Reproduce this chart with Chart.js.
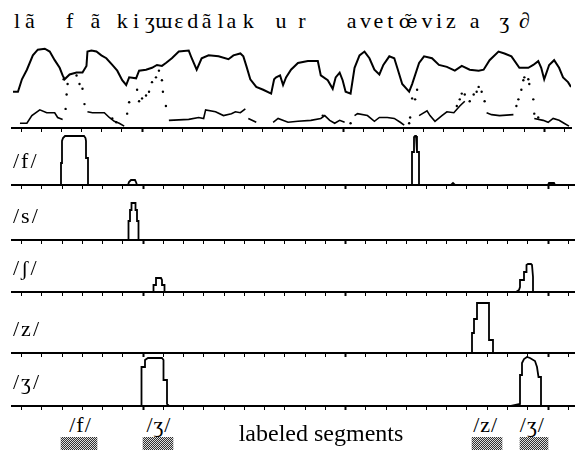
<!DOCTYPE html>
<html>
<head>
<meta charset="utf-8">
<script src="https://cdn.jsdelivr.net/npm/chart.js@4.4.1/dist/chart.umd.min.js"></script>
<style>
  html, body { margin: 0; padding: 0; background: #fff; }
  #wrap { position: relative; width: 575px; height: 458px; overflow: hidden;
          font-family: "Liberation Serif", "DejaVu Serif", serif; color: #000; }
  #wrap canvas { position: absolute; left: 0; }
  .lbl { position: absolute; font-size: 22px; line-height: 22px; white-space: nowrap; }
</style>
</head>
<body>
<div id="wrap"></div>
<script>
// time axis (arbitrary frame units), ticks
const T_MIN = 70;
const T_MAX = 633;
const TICKS = [79.5, 99.7, 120, 140.2, 160.5, 180.7, 201, 221.2, 241.5, 261.7, 282, 302.2, 322.5, 342.7,
               363, 383.2, 403.5, 423.7, 444, 464.2, 484.5, 504.7, 525, 545.2, 565.5, 585.7, 606, 626.2];
const MAJOR_TICKS = [201, 403.5, 606];

// phonetic transcription along the top
const PHONEMES = ["l", "ã", "f", "ã", "k", "i", "ʒ", "ɯ", "ɛ", "d", "ã", "l", "a", "k", "u", "r",
                  "a", "v", "e", "t", "œ̃", "v", "i", "z", "a", "ʒ", "∂"];
const PHONEME_T = [75, 88, 128, 154, 181, 195, 209, 223, 238, 252, 266, 280, 291, 308, 341, 362,
                   412, 426, 439, 451, 469, 488, 500, 512, 536, 566, 586];

// top panel: upper trace
const UPPER_T = [71, 76, 80, 85, 91, 96, 103, 108, 113, 118, 121, 123, 128, 135, 141, 145, 146, 150, 155, 160,
                 165, 171, 176, 181, 185, 188, 195, 198, 205, 211, 216, 221, 225, 231, 238, 248, 251, 256, 261, 268,
                 278, 288, 293, 300, 303, 306, 310, 316, 323, 331, 334, 336, 340, 343, 346, 351, 358, 368, 378, 381,
                 388, 393, 396, 400, 403, 406, 411, 415, 420, 425, 430, 435, 440, 444, 450, 455, 458, 463, 470, 473,
                 480, 485, 493, 500, 508, 516, 523, 531, 540, 545, 551, 560, 566, 573, 581, 590, 595, 600, 603, 606,
                 611, 616, 621, 625, 630, 633];
const UPPER_V = [38, 38, 51, 61, 76, 82, 83, 80, 71, 63, 55, 51, 56, 58, 58, 65, 80, 81, 80, 76,
                 73, 66, 60, 50, 45, 53, 52, 60, 61, 63, 66, 65, 68, 73, 80, 81, 73, 61, 73, 76,
                 75, 72, 76, 78, 75, 65, 51, 43, 40, 36, 51, 53, 55, 45, 53, 61, 68, 70, 70, 55,
                 50, 41, 53, 58, 50, 38, 36, 63, 76, 80, 73, 61, 56, 66, 75, 73, 63, 46, 38, 46,
                 68, 75, 73, 66, 64, 60, 65, 61, 60, 61, 71, 80, 78, 75, 63, 63, 66, 70, 63, 51,
                 66, 71, 63, 53, 48, 43];

// top panel: lower trace (null = break)
const LOWER_T = [78, 85, 90, 98, 105, 113, 116, 121, 130, 146, 151, 163, 168, 173, 178, 183, 200,
                 228, 248, 258, 263, 265, 275, 283, 291, 295, 300, 305, 306, 308, 316, 325,
                 333, 338, 348, 358, 371, 381, 385, 390, 395, 400, 405, 410,
                 415, 418, 428, 435, 440, 448, 455, 461, 465, 472,
                 480, 488, 491, 496, 503, 508, 515, 521, 526, 537,
                 548, 553, 561, 575, 585, 596, 605, 610, 615, 621, 626, 631];
const LOWER_V = [5, 5, 13, 19, 16, 16, 11, 9, null, 17, 16, 16, 11, 7, 5, 2, null,
                 8, 9, 11, 10, 19, 17, 13, 15, 17, 16, 20, null, 10, 6, null,
                 6, 10, 6, 7, 8, 10, 13, 8, 5, 8, 6, null,
                 13, 15, 13, 7, 11, 11, 10, 6, 3, null,
                 13, 18, 13, 7, 13, 17, 16, 23, 28, null,
                 16, 14, 13, 14, null, 10, 8, 6, 10, 8, 5, 2];

// top panel: dotted transitions
const DOT_T = [122, 126, 125, 124, 135, 138, 141, 143, 171, 175, 186, 188, 196, 198, 201, 205, 208, 211, 215, 218,
               221, 222, 225, 383, 411, 470, 471, 473, 476, 478, 518, 521, 523, 526, 531, 535, 538, 540, 543, 546,
               578, 580, 583, 585, 586, 590, 591, 595, 596, 600];
const DOT_V = [51, 46, 35, 20, 55, 46, 41, 25, 10, 6, 15, 27, 40, 28, 31, 34, 38, 48, 53, 60,
               50, 38, 23, 13, 5, 5, 11, 31, 30, 40, 23, 30, 36, 35, 28, 35, 38, 43, 38, 28,
               23, 30, 40, 50, 53, 51, 46, 30, 15, 11];

// detector outputs
const F_T = [70, 119, 119, 120, 120, 121, 123, 142, 143.5, 144, 144, 146, 146, 186, 187, 189, 193, 194, 195,
             470, 470, 472, 472, 473, 474, 475, 475, 477, 477, 509, 511, 513, 606, 607, 612, 613, 633];
const F_V = [0, 0, 22, 22, 44, 47, 49, 49, 47, 44, 27, 27, 0, 0, 3, 5, 5, 3, 0,
             0, 33, 33, 48, 49, 49, 48, 33, 33, 0, 0, 2, 0, 0, 2, 2, 0, 0];
const S_T = [70, 186.5, 186.5, 188, 188, 189.5, 189.5, 193.5, 193.5, 195, 195, 196.5, 196.5, 633];
const S_V = [0, 0, 19, 19, 30, 30, 37, 37, 30, 30, 19, 19, 0, 0];
const SH_T = [70, 211.5, 211.5, 214, 214, 219, 220, 220, 222.5, 222.5,
              574, 577, 578, 578, 582, 582, 584.5, 584.5, 586, 589, 590, 591, 591, 633];
const SH_V = [0, 0, 7, 7, 14, 14, 12, 7, 7, 0,
              0, 2, 5, 12, 12, 20, 20, 27, 28, 28, 27, 15, 0, 0];
const Z_T = [70, 530, 530, 532, 532, 535, 535, 547, 547, 551, 551, 633];
const Z_V = [0, 0, 20, 20, 34, 34, 50, 50, 13, 13, 0, 0];
const ZH_T = [70, 199.5, 199.5, 203, 203, 206, 220, 221.5, 221.5, 225, 225, 227,
              569, 578, 578, 580, 580, 582, 585, 588, 593, 595, 596.5, 599, 599, 633];
const ZH_V = [0, 0, 39, 39, 46, 48, 48, 46, 26, 26, 2, 0,
              0, 2, 31, 31, 43, 47, 49, 48, 45, 39, 29, 29, 0, 0];

const PANEL_NAMES = ["/f/", "/s/", "/ʃ/", "/z/", "/ʒ/"];

// hand-labeled segments
const SEG_NAMES = ["/f/", "/ʒ/", "/z/", "/ʒ/"];
const SEG_START = [119, 201, 530, 578];
const SEG_END = [155, 231, 560, 606];

const wrap = document.getElementById("wrap");

function pts(ts, vs) {
  return ts.map((t, i) => ({ x: t, y: vs[i] }));
}

function lineSet(ts, vs, w) {
  return {
    data: pts(ts, vs),
    borderColor: "#000",
    borderWidth: w,
    pointRadius: 0,
    tension: 0,
    spanGaps: false,
    fill: false,
  };
}

function makePanel(top, height, yMax, datasets) {
  const canvas = document.createElement("canvas");
  canvas.width = 575;
  canvas.height = height;
  canvas.style.top = top + "px";
  wrap.appendChild(canvas);
  return new Chart(canvas.getContext("2d"), {
    type: "line",
    data: { datasets: datasets },
    options: {
      responsive: false,
      animation: false,
      layout: { padding: { left: 12, right: 0, top: 0, bottom: 0 } },
      plugins: { legend: { display: false }, tooltip: { enabled: false } },
      scales: {
        x: {
          type: "linear",
          min: T_MIN,
          max: T_MAX,
          afterBuildTicks: (scale) => {
            scale.ticks = TICKS.map((v) => ({ value: v }));
          },
          ticks: { display: false },
          grid: {
            drawOnChartArea: false,
            drawTicks: true,
            tickLength: 4,
            tickColor: "#000",
            tickWidth: (ctx) => (ctx.tick && MAJOR_TICKS.includes(ctx.tick.value) ? 2 : 1),
          },
          border: { display: true, color: "#000", width: 2 },
        },
        y: { display: false, min: 0, max: yMax },
      },
    },
  });
}

// top panel: baseline at y=128
const dots = {
  data: pts(DOT_T, DOT_V),
  showLine: false,
  pointRadius: 1.2,
  pointBackgroundColor: "#000",
  pointBorderWidth: 0,
};
const topChart = makePanel(38, 94, 90, [lineSet(UPPER_T, UPPER_V, 2), lineSet(LOWER_T, LOWER_V, 1.6), dots]);

// detector panels
const BASELINES = [185, 240, 292, 353, 406];
const PANEL_DATA = [[F_T, F_V], [S_T, S_V], [SH_T, SH_V], [Z_T, Z_V], [ZH_T, ZH_V]];
PANEL_DATA.forEach((d, i) => {
  makePanel(BASELINES[i] - 55, 59, 55, [lineSet(d[0], d[1], 1.8)]);
});

// labeled segments strip
const pc = document.createElement("canvas");
pc.width = 2;
pc.height = 2;
const pctx = pc.getContext("2d");
pctx.fillStyle = "#dcdcdc";
pctx.fillRect(0, 0, 2, 2);
pctx.fillStyle = "#303030";
pctx.fillRect(0, 0, 1, 1);
pctx.fillRect(1, 1, 1, 1);
const hatch = pctx.createPattern(pc, "repeat");

const segCanvas = document.createElement("canvas");
segCanvas.width = 575;
segCanvas.height = 13;
segCanvas.style.top = "437px";
wrap.appendChild(segCanvas);
new Chart(segCanvas.getContext("2d"), {
  type: "bar",
  data: {
    labels: ["seg"],
    datasets: SEG_START.map((s, i) => ({
      data: [[s, SEG_END[i]]],
      backgroundColor: hatch,
      borderWidth: 0,
      grouped: false,
      barPercentage: 1,
      categoryPercentage: 1,
    })),
  },
  options: {
    indexAxis: "y",
    responsive: false,
    animation: false,
    layout: { padding: { left: 12, right: 0, top: 0, bottom: 0 } },
    plugins: { legend: { display: false }, tooltip: { enabled: false } },
    scales: {
      x: { type: "linear", min: T_MIN, max: T_MAX, display: false },
      y: { display: false },
    },
  },
});

// text
function addText(txt, x, top, center, extra) {
  const el = document.createElement("div");
  el.className = "lbl";
  el.textContent = txt;
  el.style.left = x + "px";
  el.style.top = top + "px";
  if (center) el.style.transform = "translateX(-50%)";
  if (extra) Object.assign(el.style, extra);
  wrap.appendChild(el);
}

const xs = topChart.scales.x;
PHONEMES.forEach((p, i) => {
  const extra = p === "œ̃" ? { fontFamily: "'DejaVu Serif', serif", fontSize: "19px" } : null;
  addText(p, xs.getPixelForValue(PHONEME_T[i]), 10, true, extra);
});
PANEL_NAMES.forEach((n, i) => addText(n, 13, BASELINES[i] - 35, false, { letterSpacing: "2px" }));
SEG_NAMES.forEach((n, i) => {
  const mid = (xs.getPixelForValue(SEG_START[i]) + xs.getPixelForValue(SEG_END[i])) / 2;
  addText(n, mid + 2, 414, true, { letterSpacing: "1px" });
});
addText("labeled segments", 321, 421, true, { fontSize: "24px", lineHeight: "24px" });
</script>
</body>
</html>
